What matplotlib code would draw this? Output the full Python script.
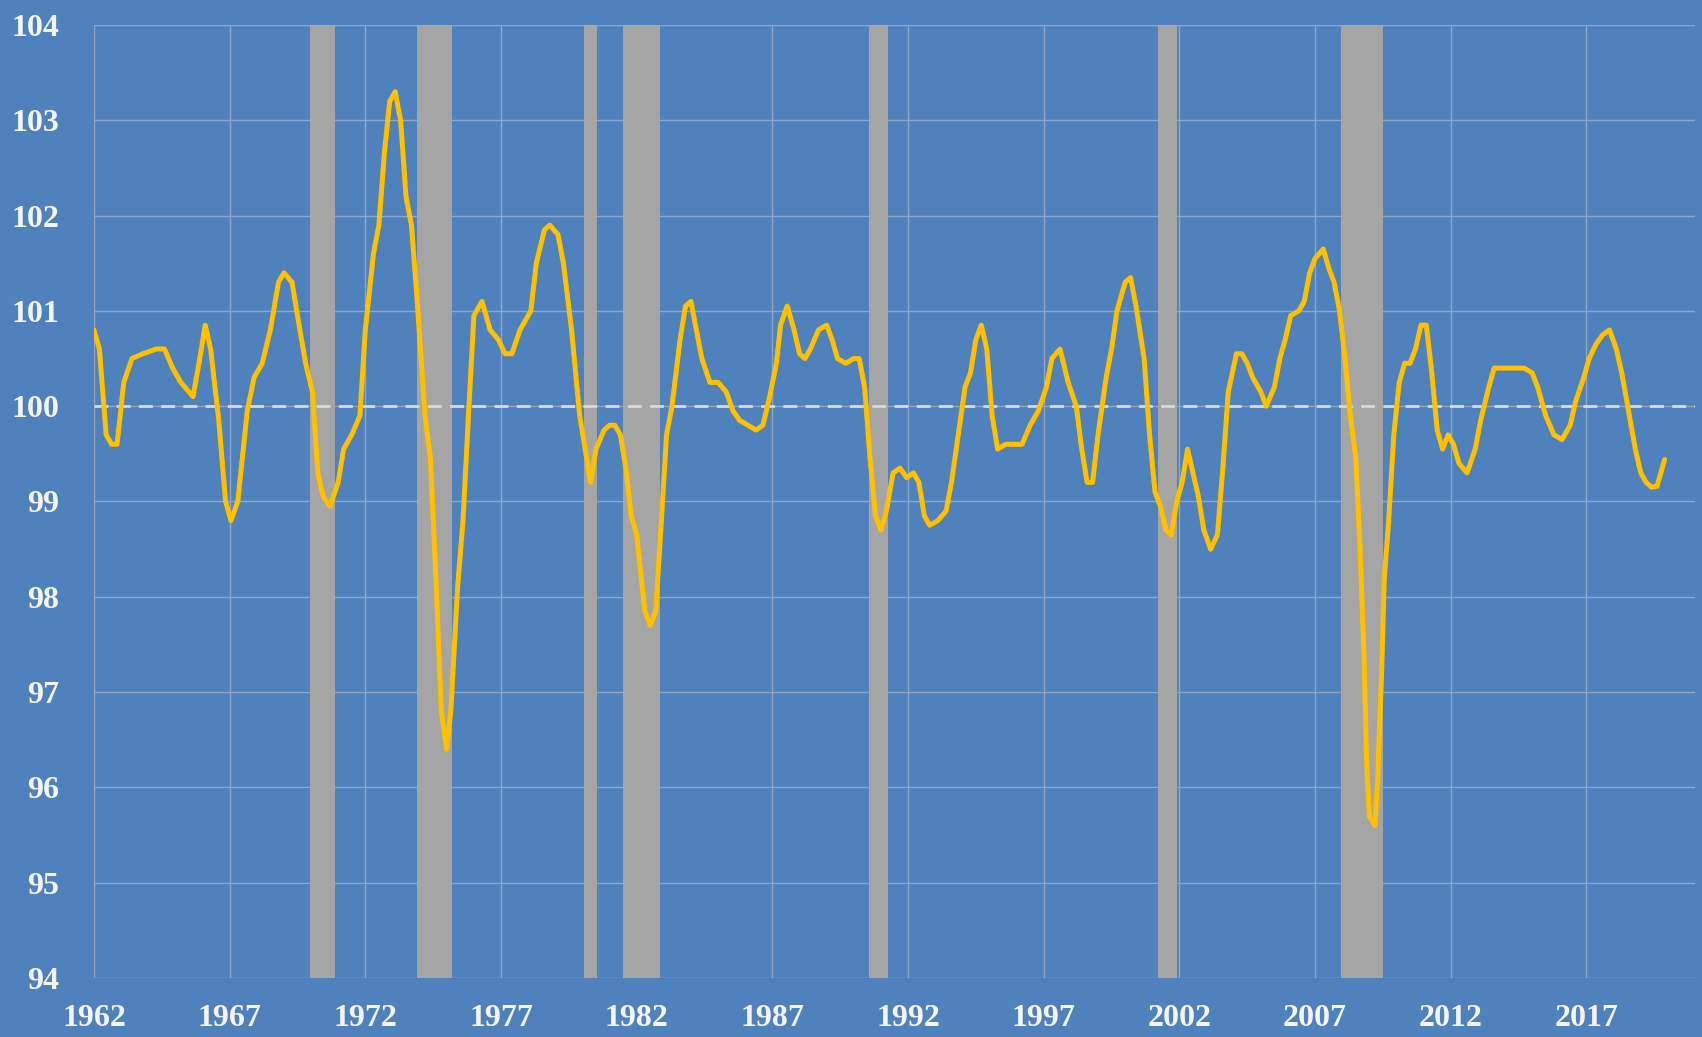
"""Индекс (100 = тренд) с 1962 года и серые полосы рецессий."""
import matplotlib
matplotlib.use("Agg")  # без GUI, только сохранение в файл
import matplotlib.pyplot as plt

BG = "#4F81BD"
GRID = "#8FA6C6"
LINE = "#FFC000"
BAR = "#A5A5A5"
TEXT = "#F4F4F4"

# точки кривой: год (десятичный) и значение
years = [
    1962.0, 1962.2, 1962.45, 1962.65, 1962.85, 1963.1, 1963.4, 1963.8, 1964.3, 1964.6,
    1964.9, 1965.2, 1965.65, 1965.9, 1966.1, 1966.3, 1966.6, 1966.85, 1967.05, 1967.3,
    1967.65, 1967.9, 1968.2, 1968.5, 1968.8, 1969.0, 1969.3, 1969.5, 1969.8, 1970.05,
    1970.25, 1970.45, 1970.7, 1971.0, 1971.2, 1971.5, 1971.8, 1972.0, 1972.3, 1972.5,
    1972.7, 1972.9, 1973.1, 1973.3, 1973.5, 1973.7, 1973.9, 1974.2, 1974.4, 1974.6,
    1974.8, 1975.0, 1975.15, 1975.4, 1975.6, 1975.8, 1976.0, 1976.3, 1976.6, 1976.9,
    1977.15, 1977.4, 1977.7, 1978.1, 1978.3, 1978.6, 1978.8, 1979.1, 1979.3, 1979.6,
    1979.9, 1980.1, 1980.3, 1980.5, 1980.8, 1981.0, 1981.2, 1981.4, 1981.6, 1981.8,
    1982.0, 1982.3, 1982.5, 1982.7, 1982.9, 1983.1, 1983.3, 1983.6, 1983.8, 1984.0,
    1984.2, 1984.4, 1984.7, 1985.0, 1985.3, 1985.55, 1985.8, 1986.1, 1986.4, 1986.65,
    1986.9, 1987.15, 1987.3, 1987.55, 1987.8, 1988.0, 1988.2, 1988.4, 1988.7, 1989.0,
    1989.2, 1989.4, 1989.7, 1990.0, 1990.2, 1990.4, 1990.6, 1990.8, 1991.0, 1991.2,
    1991.45, 1991.7, 1991.95, 1992.2, 1992.4, 1992.6, 1992.8, 1993.1, 1993.4, 1993.6,
    1993.85, 1994.1, 1994.3, 1994.5, 1994.7, 1994.9, 1995.1, 1995.3, 1995.6, 1995.9,
    1996.2, 1996.5, 1996.8, 1997.1, 1997.3, 1997.6, 1997.9, 1998.2, 1998.4, 1998.6,
    1998.8, 1999.0, 1999.3, 1999.5, 1999.7, 2000.0, 2000.2, 2000.4, 2000.7, 2000.9,
    2001.1, 2001.3, 2001.5, 2001.7, 2001.9, 2002.1, 2002.3, 2002.5, 2002.7, 2002.9,
    2003.15, 2003.4, 2003.6, 2003.8, 2004.1, 2004.3, 2004.5, 2004.7, 2005.0, 2005.2,
    2005.5, 2005.7, 2005.9, 2006.1, 2006.4, 2006.6, 2006.8, 2007.0, 2007.3, 2007.5,
    2007.7, 2007.9, 2008.1, 2008.3, 2008.5, 2008.65, 2008.8, 2008.9, 2009.0, 2009.2,
    2009.3, 2009.45, 2009.55, 2009.7, 2009.9, 2010.1, 2010.3, 2010.5, 2010.7, 2010.9,
    2011.1, 2011.3, 2011.5, 2011.7, 2011.9, 2012.1, 2012.3, 2012.6, 2012.9, 2013.1,
    2013.4, 2013.6, 2013.9, 2014.2, 2014.4, 2014.7, 2015.0, 2015.2, 2015.5, 2015.8,
    2016.1, 2016.4, 2016.6, 2016.9, 2017.1, 2017.35, 2017.6, 2017.85, 2018.1, 2018.3,
    2018.55, 2018.8, 2019.0, 2019.2, 2019.4, 2019.6, 2019.88,
]
values = [
    100.8, 100.6, 99.7, 99.6, 99.6, 100.25, 100.5, 100.55, 100.6, 100.6,
    100.4, 100.25, 100.1, 100.5, 100.85, 100.6, 99.85, 99.0, 98.8, 99.0,
    99.95, 100.3, 100.45, 100.8, 101.3, 101.4, 101.3, 100.95, 100.45, 100.15,
    99.3, 99.05, 98.95, 99.2, 99.55, 99.7, 99.9, 100.8, 101.6, 101.9,
    102.65, 103.2, 103.3, 103.0, 102.2, 101.9, 101.15, 99.9, 99.45, 98.2,
    96.8, 96.4, 96.8, 98.1, 98.8, 99.9, 100.95, 101.1, 100.8, 100.7,
    100.55, 100.55, 100.8, 101.0, 101.5, 101.85, 101.9, 101.8, 101.5, 100.8,
    99.9, 99.55, 99.2, 99.55, 99.75, 99.8, 99.8, 99.7, 99.35, 98.85,
    98.65, 97.85, 97.7, 97.85, 98.75, 99.7, 100.0, 100.7, 101.05, 101.1,
    100.8, 100.5, 100.25, 100.25, 100.15, 99.95, 99.85, 99.8, 99.75, 99.8,
    100.1, 100.45, 100.85, 101.05, 100.8, 100.55, 100.5, 100.6, 100.8, 100.85,
    100.7, 100.5, 100.45, 100.5, 100.5, 100.2, 99.45, 98.85, 98.7, 98.9,
    99.3, 99.35, 99.25, 99.3, 99.2, 98.85, 98.75, 98.8, 98.9, 99.2,
    99.7, 100.2, 100.35, 100.7, 100.85, 100.6, 99.9, 99.55, 99.6, 99.6,
    99.6, 99.8, 99.95, 100.2, 100.5, 100.6, 100.25, 100.0, 99.55, 99.2,
    99.2, 99.7, 100.3, 100.6, 101.0, 101.3, 101.35, 101.05, 100.5, 99.7,
    99.1, 98.95, 98.7, 98.65, 99.0, 99.2, 99.55, 99.3, 99.05, 98.7,
    98.5, 98.65, 99.35, 100.15, 100.55, 100.55, 100.45, 100.3, 100.15, 100.0,
    100.2, 100.5, 100.7, 100.95, 101.0, 101.1, 101.4, 101.55, 101.65, 101.45,
    101.3, 101.0, 100.5, 99.9, 99.45, 98.55, 97.4, 96.25, 95.7, 95.6,
    96.05, 97.2, 98.2, 98.75, 99.7, 100.25, 100.45, 100.45, 100.6, 100.85,
    100.85, 100.35, 99.75, 99.55, 99.7, 99.6, 99.4, 99.3, 99.55, 99.85,
    100.2, 100.4, 100.4, 100.4, 100.4, 100.4, 100.35, 100.2, 99.9, 99.7,
    99.65, 99.8, 100.05, 100.3, 100.5, 100.65, 100.75, 100.8, 100.6, 100.35,
    99.95, 99.55, 99.3, 99.2, 99.15, 99.16, 99.44,
]

# рецессии (начало, конец)
rec_start = [1969.95, 1973.9, 1980.05, 1981.5, 1990.55, 2001.2, 2007.95]
rec_end = [1970.9, 1975.2, 1980.55, 1982.85, 1991.25, 2001.9, 2009.5]

x_ticks = [1962, 1967, 1972, 1977, 1982, 1987, 1992, 1997, 2002, 2007, 2012, 2017]
y_ticks = list(range(94, 105))

fig = plt.figure(figsize=(17.02, 10.37), dpi=100, facecolor=BG)
ax = fig.add_axes([0.0552, 0.0569, 0.9407, 0.9190], facecolor=BG)

ax.set_xlim(1962, 2021)
ax.set_ylim(94, 104)
ax.set_xticks(x_ticks)
ax.set_yticks(y_ticks)
ax.grid(True, color=GRID, lw=1.0, zorder=0)
ax.set_axisbelow(True)
for s in ax.spines.values():
    s.set_visible(False)

for a, b in zip(rec_start, rec_end):
    ax.axvspan(a, b, color=BAR, lw=0, zorder=1)

ax.axhline(100, color="#D9D9D9", lw=2.0, ls=(0, (5, 3)), zorder=2)
ax.plot(years, values, color=LINE, lw=3.6, solid_joinstyle="round",
        solid_capstyle="round", zorder=3)

ax.tick_params(length=0, colors=TEXT, labelsize=23)
ax.tick_params(axis="y", pad=25)
ax.tick_params(axis="x", pad=19)
for lab in ax.get_xticklabels() + ax.get_yticklabels():
    lab.set_fontfamily("Liberation Serif")
    lab.set_fontweight("bold")
    lab.set_color(TEXT)

fig.savefig("out.png", dpi=100, facecolor=BG)
